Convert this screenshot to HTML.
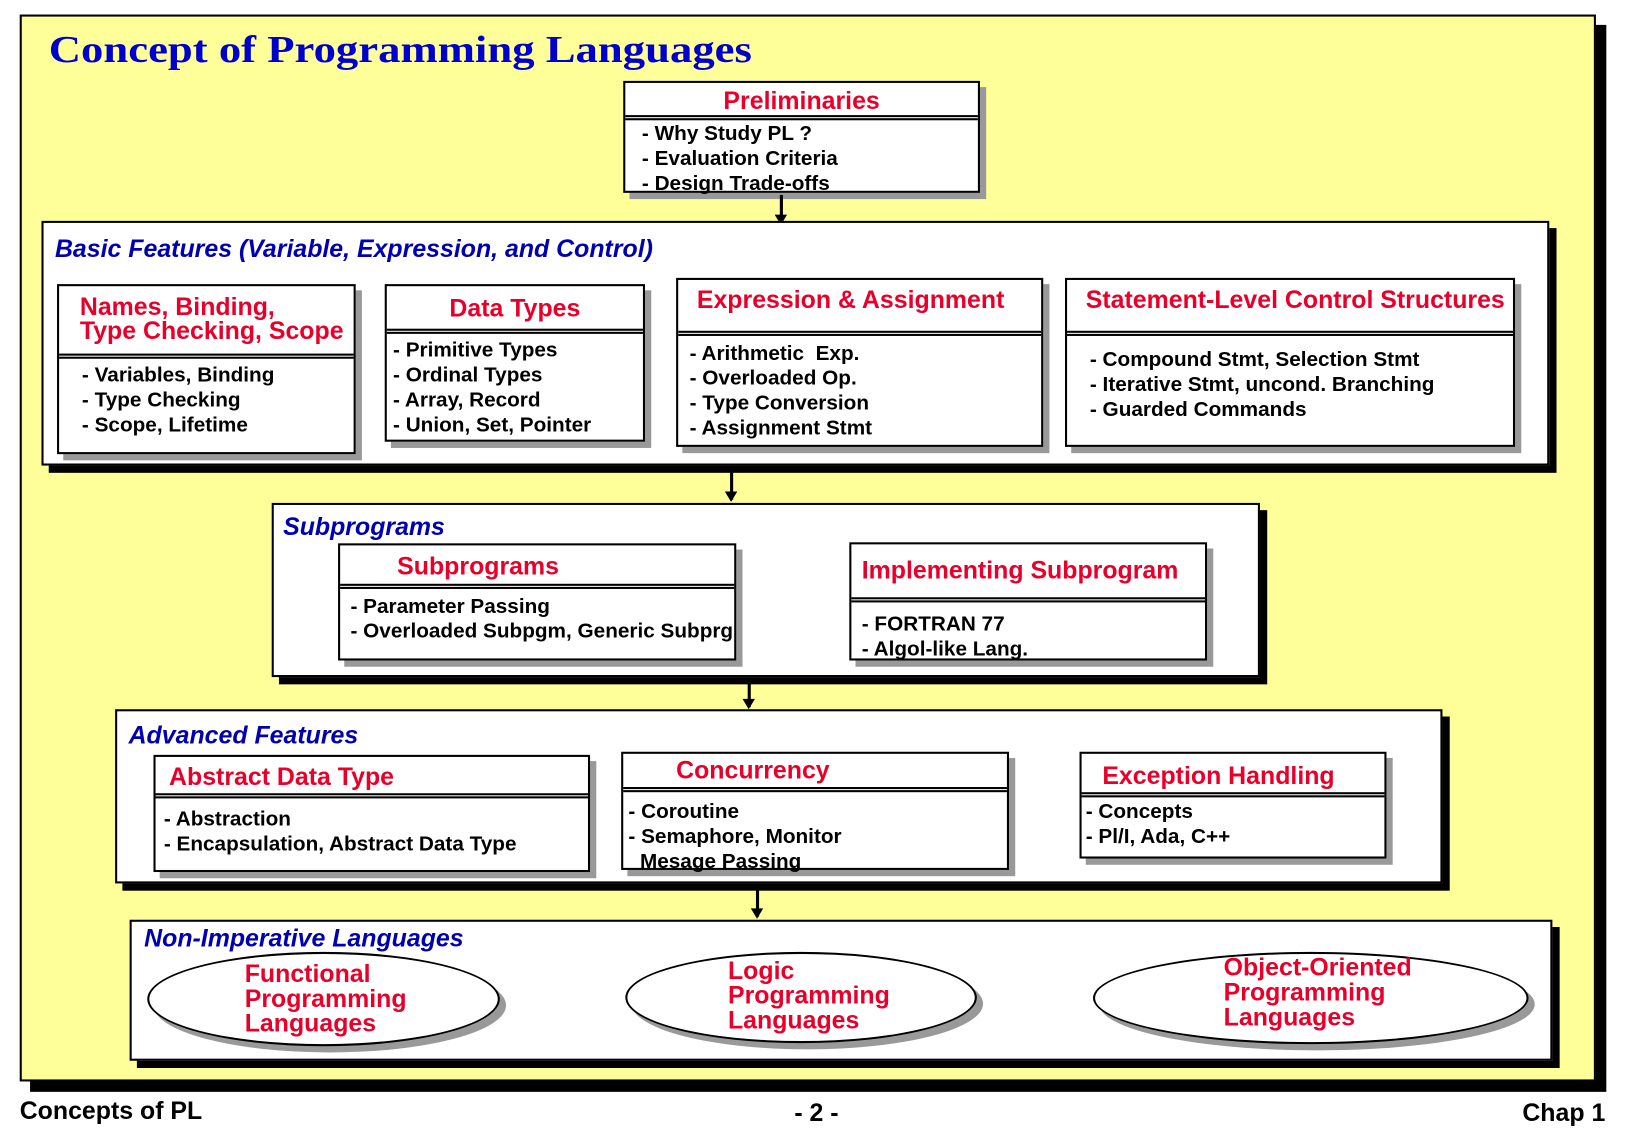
<!DOCTYPE html>
<html><head><meta charset="utf-8"><style>
html,body{margin:0;padding:0;background:#fff;width:1625px;height:1125px;overflow:hidden}
#w{position:absolute;left:0;top:0;width:1560px;height:1085px;transform:scale(1.037,1.0369);transform-origin:0 0;font-family:"Liberation Sans",Arial,sans-serif}
.a{position:absolute;box-sizing:border-box}
.outer{background:#ffff99;border:2px solid #000;box-shadow:10px 10px 0 #000}
.cont{background:#fff;border:2px solid #000;box-shadow:7px 7px 0 #000}
.box{background:#fff;border:2px solid #000;box-shadow:6px 6px 0 #999}
.hd{border-bottom:5px double #000;color:#e8002a;font-weight:bold;font-size:24px;line-height:23px;box-sizing:border-box;white-space:nowrap}
.it{font-weight:bold;font-size:20px;line-height:24px;color:#000;padding-left:16px;white-space:nowrap;position:relative;top:1px}
.lbl{position:absolute;color:#0000b0;font-weight:bold;font-style:italic;font-size:24px;white-space:nowrap}
.arr{position:absolute;width:3px;background:#000}
.arr:after{content:"";position:absolute;left:-5px;bottom:-2px;border-left:6.5px solid transparent;border-right:6.5px solid transparent;border-top:10px solid #000}
.ell{position:absolute;background:#fff;border:2px solid #000;border-radius:50%;box-shadow:6px 6px 0 #999;box-sizing:border-box}
.et{position:absolute;color:#e8002a;font-weight:bold;font-size:24px;line-height:24px;white-space:nowrap}
</style></head><body><div id="w">
<div class="a outer" style="left:19px;top:14px;width:1520px;height:1029px"></div>
<div class="a" style="left:47px;top:27px;color:#0000cc;font-family:'Liberation Serif',serif;font-weight:bold;font-size:37px;white-space:nowrap;transform:scaleX(1.165);transform-origin:0 0">Concept of Programming Languages</div>

<div class="a box" style="left:601px;top:78px;width:344px;height:108px">
<div class="hd" style="height:36px;padding-top:6px;text-align:center">Preliminaries</div>
<div class="it" style="padding-top:0px">- Why Study PL ?<br>- Evaluation Criteria<br>- Design Trade-offs</div></div>
<div class="arr" style="left:752px;top:188px;height:27px"></div>

<div class="a cont" style="left:40px;top:213px;width:1454px;height:236px"></div>
<div class="lbl" style="left:53px;top:227px">Basic Features (Variable, Expression, and Control)</div>
<div class="a box" style="left:55px;top:274px;width:288px;height:164px">
<div class="hd" style="height:70px;padding:9px 0 0 20px">Names, Binding,<br>Type Checking, Scope</div>
<div class="it" style="padding-top:3px;padding-left:22px">- Variables, Binding<br>- Type Checking<br>- Scope, Lifetime</div></div>
<div class="a box" style="left:371px;top:274px;width:251px;height:152px">
<div class="hd" style="height:46px;padding-top:10px;text-align:center">Data Types</div>
<div class="it" style="padding-top:3px;padding-left:6px">- Primitive Types<br>- Ordinal Types<br>- Array, Record<br>- Union, Set, Pointer</div></div>
<div class="a box" style="left:652px;top:268px;width:354px;height:163px">
<div class="hd" style="height:54px;padding:8px 0 0 18px">Expression &amp; Assignment</div>
<div class="it" style="padding-top:4px;padding-left:11px">- Arithmetic&nbsp; Exp.<br>- Overloaded Op.<br>- Type Conversion<br>- Assignment Stmt</div></div>
<div class="a box" style="left:1027px;top:268px;width:434px;height:163px">
<div class="hd" style="height:54px;padding:8px 0 0 18px">Statement-Level Control Structures</div>
<div class="it" style="padding-top:10px;padding-left:22px">- Compound Stmt, Selection Stmt<br>- Iterative Stmt, uncond. Branching<br>- Guarded Commands</div></div>
<div class="arr" style="left:704px;top:452px;height:30px"></div>

<div class="a cont" style="left:262px;top:485px;width:953px;height:168px"></div>
<div class="lbl" style="left:273px;top:495px">Subprograms</div>
<div class="a box" style="left:326px;top:524px;width:384px;height:113px">
<div class="hd" style="height:42px;padding:9px 0 0 55px">Subprograms</div>
<div class="it" style="padding-top:4px;padding-left:10px">- Parameter Passing<br>- Overloaded Subpgm, Generic Subprg</div></div>
<div class="a box" style="left:819px;top:523px;width:345px;height:114px">
<div class="hd" style="height:56px;padding:14px 0 0 10px">Implementing Subprogram</div>
<div class="it" style="padding-top:8px;padding-left:10px">- FORTRAN 77<br>- Algol-like Lang.</div></div>
<div class="arr" style="left:721px;top:656px;height:26px"></div>

<div class="a cont" style="left:111px;top:684px;width:1280px;height:168px"></div>
<div class="lbl" style="left:124px;top:696px">Advanced Features</div>
<div class="a box" style="left:148px;top:728px;width:421px;height:113px">
<div class="hd" style="height:40px;padding:8px 0 0 13px">Abstract Data Type</div>
<div class="it" style="padding-top:7px;padding-left:8px">- Abstraction<br>- Encapsulation, Abstract Data Type</div></div>
<div class="a box" style="left:599px;top:725px;width:374px;height:114px">
<div class="hd" style="height:37px;padding:5px 0 0 51px">Concurrency</div>
<div class="it" style="padding-top:6px;padding-left:5px;line-height:24px">- Coroutine<br>- Semaphore, Monitor<br>&nbsp;&nbsp;Mesage Passing</div></div>
<div class="a box" style="left:1041px;top:725px;width:296px;height:103px">
<div class="hd" style="height:42px;padding:10px 0 0 20px">Exception Handling</div>
<div class="it" style="padding-top:1px;padding-left:4px">- Concepts<br>- Pl/I, Ada, C++</div></div>
<div class="arr" style="left:729px;top:855px;height:29px"></div>

<div class="a cont" style="left:125px;top:887px;width:1372px;height:136px"></div>
<div class="lbl" style="left:139px;top:892px">Non-Imperative Languages</div>
<div class="ell" style="left:142px;top:918px;width:340px;height:91px"></div>
<div class="et" style="left:236px;top:928px">Functional<br>Programming<br>Languages</div>
<div class="ell" style="left:603px;top:918px;width:339px;height:88px"></div>
<div class="et" style="left:702px;top:925px">Logic<br>Programming<br>Languages</div>
<div class="ell" style="left:1054px;top:918px;width:420px;height:89px"></div>
<div class="et" style="left:1180px;top:922px">Object-Oriented<br>Programming<br>Languages</div>

<div class="a" style="left:19px;top:1058px;font-weight:bold;font-size:24px">Concepts of PL</div>
<div class="a" style="left:766px;top:1060px;font-weight:bold;font-size:24px">- 2 -</div>
<div class="a" style="left:1468px;top:1060px;font-weight:bold;font-size:24px">Chap 1</div>
</div></body></html>
